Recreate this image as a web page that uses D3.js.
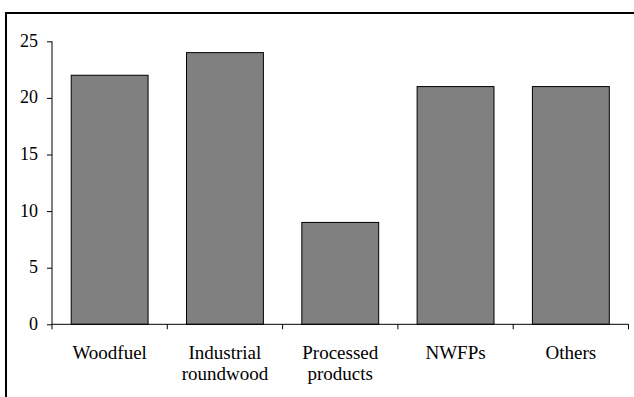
<!DOCTYPE html>
<html><head><meta charset="utf-8">
<script src="https://cdn.jsdelivr.net/npm/d3@7"></script>
<style>
html,body{margin:0;padding:0;background:#fff;}
#wrap{position:relative;width:634px;height:397px;overflow:hidden;}
svg{display:block;position:absolute;left:0;top:0;}
.lbl{position:absolute;font-family:"Liberation Serif","Times New Roman",Times,serif;color:#000;white-space:nowrap;}
</style>
</head><body>
<div id="wrap"><svg id="chart" width="634" height="397"></svg></div>
<script>
const categories = [["Woodfuel"], ["Industrial","roundwood"], ["Processed","products"], ["NWFPs"], ["Others"]];
const values = [22, 24, 9, 21, 21];
const yTicks = [0, 5, 10, 15, 20, 25];

const wrap = d3.select("#wrap");
const svg = d3.select("#chart");
svg.append("rect").attr("x", 6).attr("y", 13).attr("width", 700).attr("height", 500)
  .attr("fill", "none").attr("stroke", "#000").attr("stroke-width", 2);

const x0 = 52, x1 = 628.5, yTop = 41.3, yBot = 324.3;
const x = d3.scaleBand().domain(d3.range(values.length)).range([x0, x1]).paddingInner(1/3).paddingOuter(1/6);
const y = d3.scaleLinear().domain([0, 25]).range([yBot, yTop]);
const step = (x1 - x0) / values.length;

svg.append("g").selectAll("rect").data(values).enter().append("rect")
  .attr("x", (d, i) => x(i)).attr("y", d => y(d))
  .attr("width", x.bandwidth()).attr("height", d => y(0) - y(d))
  .attr("fill", "#808080").attr("stroke", "#000").attr("stroke-width", 1);

// y axis (lines via d3 axis, labels as HTML text)
const ya = svg.append("g").attr("transform", `translate(${x0},0)`)
  .call(d3.axisLeft(y).tickValues(yTicks).tickSize(5).tickFormat(""));
ya.select(".domain").attr("d", `M-0,${yTop}V${yBot}`);
ya.selectAll("text").remove();

wrap.selectAll("div.ylbl").data(yTicks).enter().append("div")
  .attr("class", "lbl ylbl")
  .style("right", (634 - 38) + "px")
  .style("top", d => (y(d) - 9.5) + "px")
  .style("font-size", "18px").style("line-height", "18px")
  .text(d => d3.format("d")(d));

// x axis
const xa = svg.append("g");
xa.append("line").attr("x1", x0).attr("x2", x1).attr("y1", yBot).attr("y2", yBot).attr("stroke", "#000");
xa.selectAll("line.t").data(d3.range(values.length + 1)).enter().append("line")
  .attr("x1", i => x0 + i * step).attr("x2", i => x0 + i * step)
  .attr("y1", yBot).attr("y2", yBot + 5).attr("stroke", "#000");

wrap.selectAll("div.xlbl").data(categories).enter().append("div")
  .attr("class", "lbl xlbl")
  .style("left", (d, i) => (x(i) + x.bandwidth() / 2 - 60) + "px")
  .style("width", "120px").style("text-align", "center")
  .style("top", "342px")
  .style("font-size", "19px").style("line-height", "21px")
  .html(d => d.join("<br>"));
</script>
</body></html>
